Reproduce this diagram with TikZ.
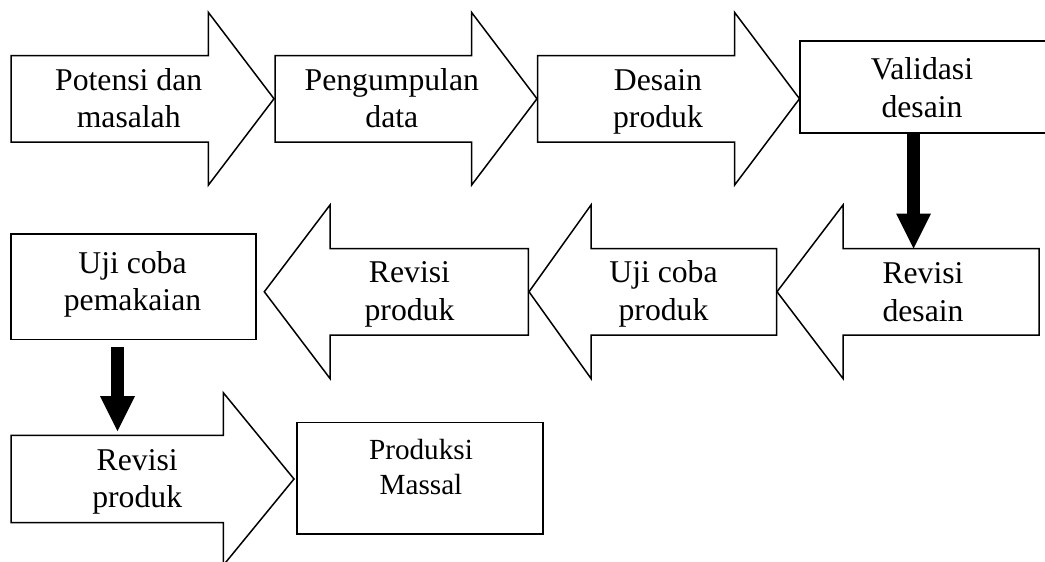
\documentclass[tikz,border=0pt]{standalone}
\usepackage{fontspec}
\setmainfont{Liberation Serif}
\usetikzlibrary{arrows.meta}
\begin{document}
\begin{tikzpicture}[x=1pt,y=-1pt,
  shapeline/.style={draw=black,line width=1.5pt,line join=miter,fill=white},
  boxstyle/.style={draw=black,line width=1.7pt,inner sep=0pt},
  lbl/.style={align=center,anchor=base,inner sep=0pt,font=\fontsize{31.7}{37.5}\selectfont},
  lblsmall/.style={align=center,anchor=base,inner sep=0pt,font=\fontsize{29.2}{35}\selectfont},
  bigarrow/.style={line width=12.5pt,-{Triangle[width=35pt,length=35pt,line width=0pt]}}]
\useasboundingbox (0,0) rectangle (1045,562);

% Row 1 right arrows
\draw[shapeline] (11,55.5) -- (208.3,55.5) -- (208.3,12.3) -- (274,98.75) -- (208.3,185.2) -- (208.3,142) -- (11,142) -- cycle;
\draw[shapeline] (275,55.5) -- (471.5,55.5) -- (471.5,12.3) -- (537,98.75) -- (471.5,185.2) -- (471.5,142) -- (275,142) -- cycle;
\draw[shapeline] (537.5,55.5) -- (734.5,55.5) -- (734.5,12.3) -- (799.5,98.75) -- (734.5,185.2) -- (734.5,142) -- (537.5,142) -- cycle;
\node[boxstyle,minimum width=250pt,minimum height=92pt] (valid) at (925,86.7) {};

\node[lbl] (t1) at (128.7,127.8) {Potensi dan\\masalah};
\node[lbl] (t2) at (391.8,127.8) {Pengumpulan\\data};
\node[lbl] (t3) at (658,127.8) {Desain\\produk};
\node[lbl] (t4) at (922,117.3) {Validasi\\desain};

% Row 2 left arrows
\draw[shapeline] (1039,248.5) -- (843,248.5) -- (843,205) -- (777,291.75) -- (843,378.5) -- (843,335) -- (1039,335) -- cycle;
\draw[shapeline] (776.5,248.5) -- (591,248.5) -- (591,205) -- (529,291.75) -- (591,378.5) -- (591,335) -- (776.5,335) -- cycle;
\draw[shapeline] (528.3,248.5) -- (330,248.5) -- (330,205) -- (264.3,291.75) -- (330,378.5) -- (330,335) -- (528.3,335) -- cycle;
\node[boxstyle,minimum width=245pt,minimum height=105.2pt] (ujip) at (133.5,286.9) {};

\node[lbl] (t5) at (132.5,310.8) {Uji coba\\pemakaian};
\node[lbl] (t6) at (409.5,320) {Revisi\\produk};
\node[lbl] (t7) at (663.5,320) {Uji coba\\produk};
\node[lbl] (t8) at (923,321) {Revisi\\desain};

% Row 3
\draw[shapeline] (11,435.3) -- (223.3,435.3) -- (223.3,392.7) -- (294,479) -- (223.3,565.3) -- (223.3,522.7) -- (11,522.7) -- cycle;
\node[boxstyle,minimum width=245.7pt,minimum height=111.7pt] (prod) at (420.15,478.35) {};

\node[lbl] (t9) at (137.2,507.5) {Revisi\\produk};
\node[lblsmall] (t10) at (421,494) {Produksi\\Massal};

% Black connectors
\coordinate (rdtop) at (913.5,248.5);
\draw[bigarrow] (valid.south -| rdtop) -- (rdtop);
\coordinate (rptop) at (117.5,431);
\draw[bigarrow] ([yshift=-7pt]ujip.south -| rptop) -- (rptop);
\end{tikzpicture}
\end{document}
